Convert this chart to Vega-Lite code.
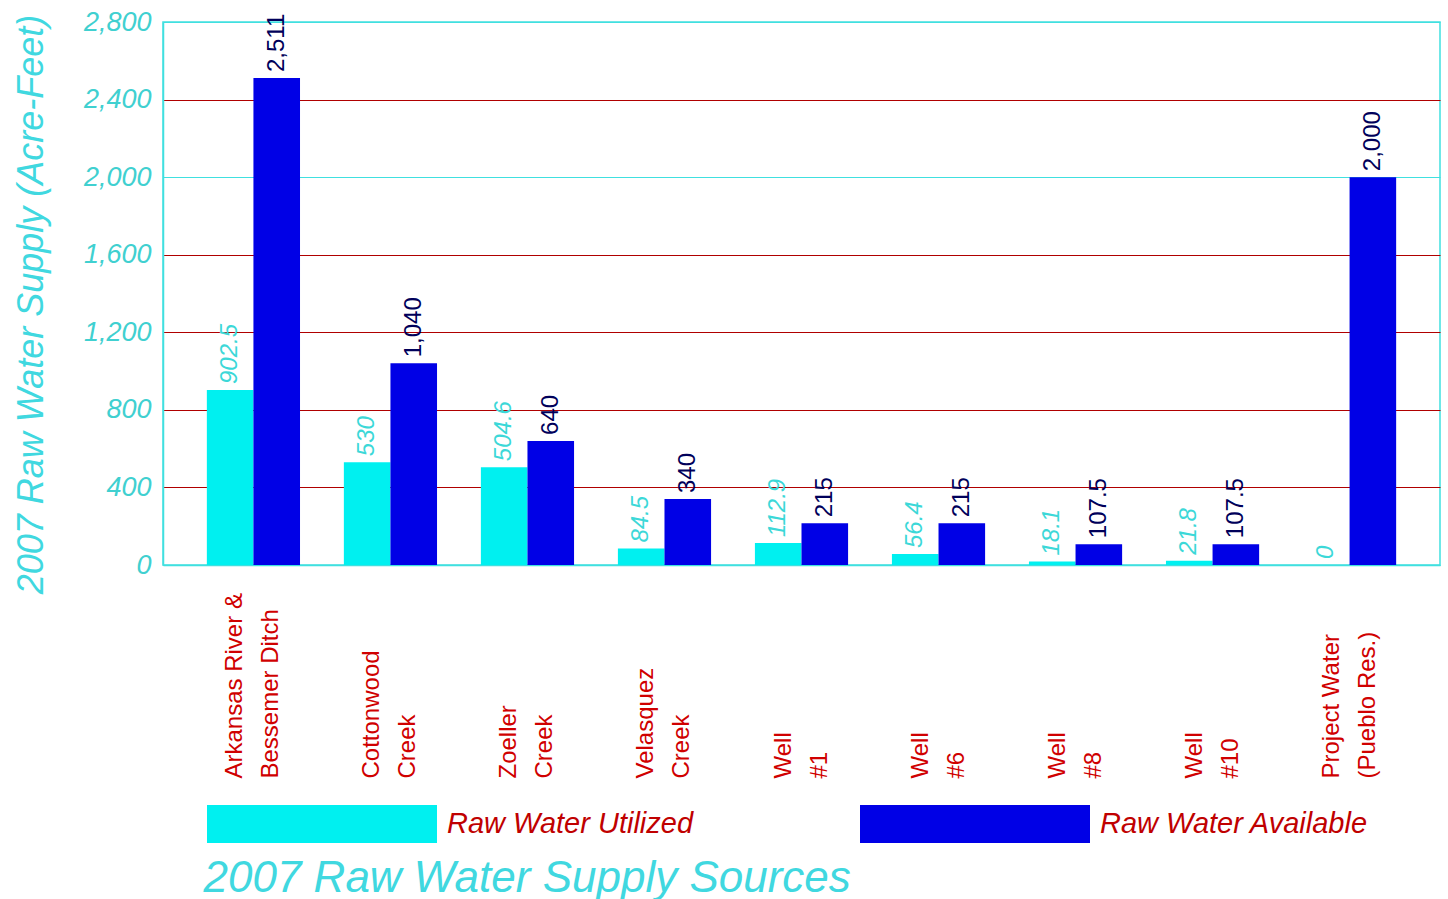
{
  "$schema": "https://vega.github.io/schema/vega-lite/v6.json",
  "width": 1277,
  "height": 543,
  "autosize": {"type": "none"},
  "padding": {"left": 163, "top": 22, "right": 8, "bottom": 334},
  "background": "white",
  "config": {
    "view": {"stroke": "#40E0E0", "strokeWidth": 1.5},
    "font": "Liberation Sans"
  },
  "data": {
    "values": [
      {"source": "Arkansas River &|Bessemer Ditch", "type": "Raw Water Utilized", "value": 902.5},
      {"source": "Arkansas River &|Bessemer Ditch", "type": "Raw Water Available", "value": 2511},
      {"source": "Cottonwood|Creek", "type": "Raw Water Utilized", "value": 530},
      {"source": "Cottonwood|Creek", "type": "Raw Water Available", "value": 1040},
      {"source": "Zoeller|Creek", "type": "Raw Water Utilized", "value": 504.6},
      {"source": "Zoeller|Creek", "type": "Raw Water Available", "value": 640},
      {"source": "Velasquez|Creek", "type": "Raw Water Utilized", "value": 84.5},
      {"source": "Velasquez|Creek", "type": "Raw Water Available", "value": 340},
      {"source": "Well|#1", "type": "Raw Water Utilized", "value": 112.9},
      {"source": "Well|#1", "type": "Raw Water Available", "value": 215},
      {"source": "Well|#6", "type": "Raw Water Utilized", "value": 56.4},
      {"source": "Well|#6", "type": "Raw Water Available", "value": 215},
      {"source": "Well|#8", "type": "Raw Water Utilized", "value": 18.1},
      {"source": "Well|#8", "type": "Raw Water Available", "value": 107.5},
      {"source": "Well|#10", "type": "Raw Water Utilized", "value": 21.8},
      {"source": "Well|#10", "type": "Raw Water Available", "value": 107.5},
      {"source": "Project Water|(Pueblo Res.)", "type": "Raw Water Utilized", "value": 0},
      {"source": "Project Water|(Pueblo Res.)", "type": "Raw Water Available", "value": 2000}
    ]
  },
  "encoding": {
    "x": {
      "field": "source",
      "type": "nominal",
      "sort": null,
      "scale": {"paddingInner": 0.32, "paddingOuter": 0.32},
      "axis": {
        "labelAngle": -90,
        "labelAlign": "left",
        "labelBaseline": "middle",
        "labelPadding": 213,
        "labelOffset": -18,
        "labelExpr": "split(datum.label, '|')",
        "labelFontSize": 24,
        "labelColor": "#D00000",
        "labelFont": "Liberation Sans",
        "labelLineHeight": 36,
        "labelLimit": 400,
        "ticks": false,
        "domainColor": "#40E0E0",
        "domainWidth": 1.5,
        "title": "2007 Raw Water Supply Sources",
        "titleFont": "Liberation Sans",
        "titleFontSize": 44,
        "titleFontStyle": "italic",
        "titleFontWeight": "normal",
        "titleColor": "#40D8E0",
        "titleAnchor": "start",
        "titleAlign": "left",
        "titleBaseline": "alphabetic",
        "titleX": 40,
        "titleY": 326
      }
    },
    "y": {
      "field": "value",
      "type": "quantitative",
      "scale": {"domain": [0, 2800], "nice": false},
      "axis": {
        "values": [0, 400, 800, 1200, 1600, 2000, 2400, 2800],
        "format": ",.0f",
        "ticks": false,
        "domain": true,
        "domainColor": "#40E0E0",
        "domainWidth": 1.5,
        "grid": true,
        "gridColor": {"condition": {"test": "datum.value == 2000 || datum.value == 2800 || datum.value == 0", "value": "#40E0E0"}, "value": "#B00000"},
        "gridWidth": 1.2,
        "labelFont": "Liberation Sans",
        "labelFontSize": 27,
        "labelFontStyle": "italic",
        "labelColor": "#40D0D0",
        "labelPadding": 12,
        "title": "2007 Raw Water Supply (Acre-Feet)",
        "titleFont": "Liberation Sans",
        "titleFontSize": 36,
        "titleFontStyle": "italic",
        "titleFontWeight": "normal",
        "titleColor": "#40D8E0",
        "titleAngle": -90,
        "titleAlign": "center",
        "titleBaseline": "middle",
        "titleX": -132,
        "titleY": 282
      }
    },
    "xOffset": {
      "field": "type",
      "type": "nominal",
      "sort": ["Raw Water Utilized", "Raw Water Available"],
      "scale": {"paddingInner": 0, "paddingOuter": 0}
    }
  },
  "layer": [
    {
      "mark": {"type": "bar"},
      "encoding": {
        "color": {
          "field": "type",
          "type": "nominal",
          "scale": {"domain": ["Raw Water Utilized", "Raw Water Available"], "range": ["#00F0F0", "#0000E6"]},
          "legend": {
            "orient": "none",
            "legendX": 44,
            "legendY": 687,
            "direction": "horizontal",
            "title": null,
            "padding": 0,
            "symbolType": "M-1,-0.165H1V0.165H-1Z",
            "symbolSize": 52900,
            "symbolStrokeWidth": 0,
            "symbolOpacity": 1,
            "labelFont": "Liberation Sans",
            "labelFontSize": 29,
            "labelFontStyle": "italic",
            "labelColor": "#C00000",
            "labelOffset": 10,
            "labelLimit": 400,
            "columnPadding": 166
          }
        }
      }
    },
    {
      "transform": [{"filter": "datum.type == 'Raw Water Utilized'"}],
      "mark": {"type": "text", "angle": -90, "align": "left", "baseline": "middle", "dx": 6, "fontSize": 24, "fontStyle": "italic", "color": "#3CD8D8", "font": "Liberation Sans"},
      "encoding": {
        "text": {"field": "value", "type": "quantitative", "format": ","}
      }
    },
    {
      "transform": [{"filter": "datum.type == 'Raw Water Available'"}],
      "mark": {"type": "text", "angle": -90, "align": "left", "baseline": "middle", "dx": 6, "fontSize": 24, "color": "#00005A", "font": "Liberation Sans"},
      "encoding": {
        "text": {"field": "value", "type": "quantitative", "format": ","}
      }
    }
  ]
}
